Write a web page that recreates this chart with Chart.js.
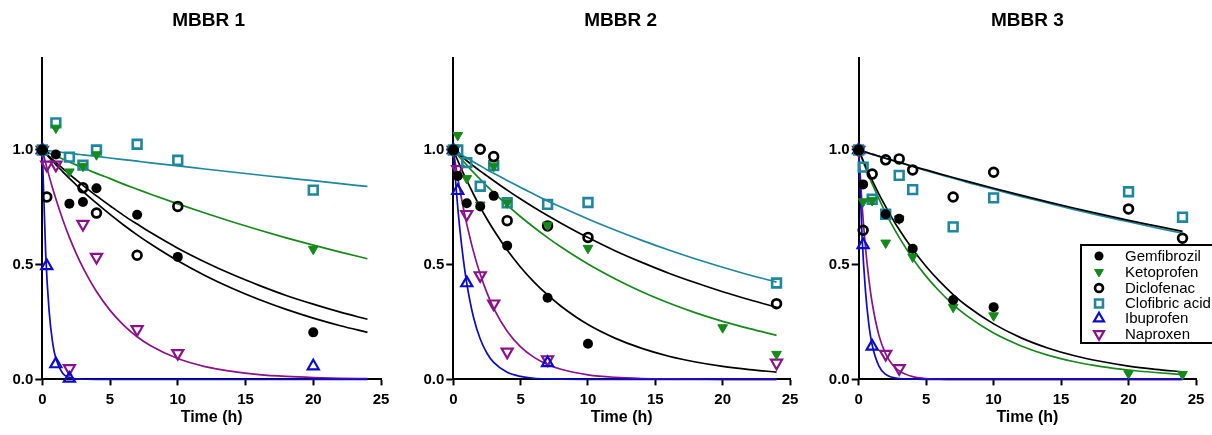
<!DOCTYPE html>
<html>
<head>
<meta charset="utf-8">
<script src="https://cdn.jsdelivr.net/npm/chart.js@4.4.1/dist/chart.umd.min.js"></script>
<style>
  html, body { margin: 0; padding: 0; background: #fff; width: 1212px; height: 435px; overflow: hidden; }
  canvas { position: absolute; top: 0; }
</style>
</head>
<body>
<canvas id="p1" width="400" height="435" style="left:0px"></canvas>
<canvas id="p2" width="400" height="435" style="left:410px"></canvas>
<canvas id="p3" width="397" height="435" style="left:815px"></canvas>
<script>
// Relative concentration C/C0 of six pharmaceuticals in three MBBR reactors.
const SERIES_NAMES = ['Gemfibrozil', 'Ketoprofen', 'Diclofenac', 'Clofibric acid', 'Ibuprofen', 'Naproxen'];
const PANEL_TITLES = ['MBBR 1', 'MBBR 2', 'MBBR 3'];
const X_TICKS = [0, 5, 10, 15, 20, 25];
const Y_TICKS = [0, 0.5, 1.0];

// Sampling times (h)
const TIMES_1 = [0, 0.33, 1, 2, 3, 4, 7, 10, 20];
const TIMES_23 = [0, 0.33, 1, 2, 3, 4, 7, 10, 20, 24];

// Measured C/C0, MBBR 1
const M1_GEM  = [1.0, null, 0.98, 0.766, 0.773, 0.833, 0.718, 0.534, 0.205];
const M1_KETO = [1.0, null, 1.096, 0.905, 0.93, 0.98, null, null, 0.568];
const M1_DIC  = [1.0, 0.795, null, null, 0.835, 0.725, 0.541, 0.754, null];
const M1_CLOF = [1.0, null, 1.118, 0.969, 0.934, 1.0, 1.025, 0.955, 0.825];
const M1_IBU  = [1.0, 0.495, 0.067, 0.004, null, null, null, null, 0.058];
const M1_NAP  = [1.0, 0.935, 0.935, 0.048, 0.677, 0.533, 0.218, 0.114, null];

// Measured C/C0, MBBR 2
const M2_GEM  = [1.0, 0.887, 0.768, 0.754, 0.80, 0.583, 0.356, 0.155, null, null];
const M2_KETO = [1.0, 1.064, 0.876, 0.761, 0.93, 0.77, 0.673, 0.572, 0.226, 0.11];
const M2_DIC  = [1.0, null, null, 1.003, 0.971, 0.692, 0.669, 0.619, null, 0.33];
const M2_CLOF = [1.0, 1.0, 0.945, 0.842, 0.932, 0.77, 0.763, 0.771, null, 0.42];
const M2_IBU  = [1.0, 0.822, 0.42, null, null, null, 0.072, null, null, null];
const M2_NAP  = [1.0, 0.916, 0.72, 0.453, 0.33, 0.12, 0.087, null, null, 0.072];

// Measured C/C0, MBBR 3
const M3_GEM  = [1.0, 0.85, null, 0.72, 0.70, 0.57, 0.346, 0.315, null, null];
const M3_KETO = [1.0, 0.775, 0.78, 0.595, 0.70, 0.534, 0.315, 0.278, 0.026, 0.022];
const M3_DIC  = [1.0, 0.65, 0.895, 0.957, 0.961, 0.913, 0.795, 0.903, 0.743, 0.615];
const M3_CLOF = [1.0, 0.925, 0.785, 0.72, 0.889, 0.827, 0.665, 0.791, 0.818, 0.707];
const M3_IBU  = [1.0, 0.586, 0.144, null, null, null, null, null, null, null];
const M3_NAP  = [1.0, null, null, 0.11, 0.048, null, null, null, null, null];

// First-order decay fits, tabulated at these times (h)
const T_FIT = [0, 0.25, 0.5, 0.75, 1, 1.5, 2, 2.5, 3, 4, 5, 6, 7, 8, 10, 12, 14, 16, 18, 20, 22, 24];

const F1_GEM  = [1, 0.984, 0.968, 0.952, 0.936, 0.906, 0.876, 0.848, 0.820, 0.768, 0.719, 0.673, 0.630, 0.590, 0.517, 0.453, 0.397, 0.348, 0.305, 0.267, 0.234, 0.205];
const F1_KETO = [1, 0.993, 0.987, 0.980, 0.974, 0.961, 0.948, 0.935, 0.923, 0.898, 0.875, 0.851, 0.829, 0.807, 0.765, 0.725, 0.687, 0.651, 0.617, 0.585, 0.555, 0.526];
const F1_DIC  = [1, 0.986, 0.972, 0.959, 0.946, 0.920, 0.894, 0.870, 0.846, 0.800, 0.757, 0.715, 0.677, 0.640, 0.572, 0.512, 0.458, 0.410, 0.366, 0.328, 0.293, 0.262];
const F1_CLOF = [1, 0.998, 0.996, 0.995, 0.993, 0.989, 0.986, 0.982, 0.979, 0.972, 0.965, 0.958, 0.951, 0.944, 0.931, 0.917, 0.904, 0.891, 0.878, 0.866, 0.853, 0.841];
const F1_IBU  = [1, 0.549, 0.301, 0.165, 0.091, 0.027, 0.008, 0.002, 0.001, 0, 0, 0, 0, 0, 0, 0, 0, 0, 0, 0, 0, 0];
const F1_NAP  = [1, 0.942, 0.887, 0.835, 0.787, 0.698, 0.619, 0.549, 0.487, 0.383, 0.301, 0.237, 0.186, 0.147, 0.091, 0.056, 0.035, 0.021, 0.013, 0.008, 0.005, 0.003];

const F2_GEM  = [1, 0.965, 0.931, 0.898, 0.867, 0.807, 0.751, 0.699, 0.651, 0.564, 0.489, 0.424, 0.368, 0.319, 0.239, 0.180, 0.135, 0.101, 0.076, 0.057, 0.043, 0.032];
const F2_KETO = [1, 0.983, 0.966, 0.950, 0.934, 0.902, 0.872, 0.842, 0.814, 0.760, 0.709, 0.662, 0.618, 0.577, 0.503, 0.439, 0.382, 0.333, 0.290, 0.253, 0.221, 0.192];
const F2_DIC  = [1, 0.988, 0.976, 0.965, 0.953, 0.930, 0.908, 0.887, 0.866, 0.825, 0.786, 0.749, 0.714, 0.681, 0.618, 0.561, 0.510, 0.463, 0.421, 0.382, 0.347, 0.315];
const F2_CLOF = [1, 0.991, 0.982, 0.974, 0.965, 0.948, 0.931, 0.914, 0.898, 0.867, 0.836, 0.807, 0.778, 0.751, 0.699, 0.651, 0.606, 0.564, 0.525, 0.489, 0.455, 0.424];
const F2_IBU  = [1, 0.805, 0.647, 0.521, 0.419, 0.271, 0.176, 0.114, 0.074, 0.031, 0.013, 0.005, 0.002, 0.001, 0, 0, 0, 0, 0, 0, 0, 0];
const F2_NAP  = [1, 0.907, 0.823, 0.746, 0.677, 0.557, 0.458, 0.377, 0.310, 0.210, 0.142, 0.096, 0.065, 0.044, 0.020, 0.009, 0.004, 0.002, 0.001, 0, 0, 0];

const F3_GEM  = [1, 0.965, 0.931, 0.899, 0.868, 0.808, 0.753, 0.701, 0.653, 0.567, 0.492, 0.427, 0.370, 0.321, 0.242, 0.182, 0.137, 0.103, 0.078, 0.058, 0.044, 0.033];
const F3_KETO = [1, 0.961, 0.923, 0.887, 0.852, 0.787, 0.726, 0.670, 0.619, 0.527, 0.449, 0.383, 0.326, 0.278, 0.202, 0.147, 0.106, 0.077, 0.056, 0.041, 0.030, 0.021];
const F3_DIC  = [1, 0.995, 0.991, 0.986, 0.982, 0.973, 0.964, 0.955, 0.947, 0.929, 0.913, 0.896, 0.880, 0.864, 0.833, 0.803, 0.774, 0.746, 0.719, 0.693, 0.669, 0.645];
const F3_CLOF = [1, 0.995, 0.991, 0.986, 0.981, 0.972, 0.963, 0.954, 0.945, 0.928, 0.910, 0.893, 0.877, 0.860, 0.829, 0.798, 0.769, 0.740, 0.713, 0.687, 0.661, 0.637];
const F3_IBU  = [1, 0.622, 0.387, 0.241, 0.150, 0.058, 0.022, 0.009, 0.003, 0.001, 0, 0, 0, 0, 0, 0, 0, 0, 0, 0, 0, 0];
const F3_NAP  = [1, 0.760, 0.577, 0.438, 0.333, 0.192, 0.111, 0.064, 0.037, 0.012, 0.004, 0.001, 0, 0, 0, 0, 0, 0, 0, 0, 0, 0];

// Marker and line styles, in series order
const STYLES = [
  { color: '#000000', pointStyle: 'circle',   rotation: 0,   radius: 5.0, borderWidth: 0,   filled: true  },
  { color: '#15891a', pointStyle: 'triangle', rotation: 180, radius: 5.6, borderWidth: 1,   filled: true  },
  { color: '#000000', pointStyle: 'circle',   rotation: 0,   radius: 4.4, borderWidth: 2.7, filled: false },
  { color: '#1d87a0', pointStyle: 'rect',     rotation: 0,   radius: 6.2, borderWidth: 2.6, filled: false },
  { color: '#0a0ad0', pointStyle: 'triangle', rotation: 0,   radius: 6.4, borderWidth: 2.2, filled: false },
  { color: '#8b108b', pointStyle: 'triangle', rotation: 180, radius: 6.4, borderWidth: 2.2, filled: false }
];

const FONT = '"Liberation Sans", Arial, Helvetica, sans-serif';

const PANELS = [
  { canvas: 'p1', title: PANEL_TITLES[0], times: TIMES_1,
    measured: [M1_GEM, M1_KETO, M1_DIC, M1_CLOF, M1_IBU, M1_NAP],
    fits: [F1_GEM, F1_KETO, F1_DIC, F1_CLOF, F1_IBU, F1_NAP],
    yWidth: 42.3, padRight: 19, titleDx: -3, legend: false },
  { canvas: 'p2', title: PANEL_TITLES[1], times: TIMES_23,
    measured: [M2_GEM, M2_KETO, M2_DIC, M2_CLOF, M2_IBU, M2_NAP],
    fits: [F2_GEM, F2_KETO, F2_DIC, F2_CLOF, F2_IBU, F2_NAP],
    yWidth: 43.3, padRight: 20, titleDx: -1, legend: false },
  { canvas: 'p3', title: PANEL_TITLES[2], times: TIMES_23,
    measured: [M3_GEM, M3_KETO, M3_DIC, M3_CLOF, M3_IBU, M3_NAP],
    fits: [F3_GEM, F3_KETO, F3_DIC, F3_CLOF, F3_IBU, F3_NAP],
    yWidth: 43.7, padRight: 16, titleDx: 0, legend: true }
];

function drawMarker(ctx, st, x, y) {
  ctx.save();
  ctx.fillStyle = st.filled ? st.color : 'rgba(0,0,0,0)';
  ctx.strokeStyle = st.color;
  ctx.lineWidth = st.borderWidth;
  if (Chart.helpers && Chart.helpers.drawPoint) {
    Chart.helpers.drawPoint(ctx, { pointStyle: st.pointStyle, rotation: st.rotation, radius: st.radius, borderWidth: st.borderWidth }, x, y);
  } else {
    ctx.beginPath();
    ctx.arc(x, y, st.radius, 0, Math.PI * 2);
    ctx.fill();
    if (st.borderWidth > 0) ctx.stroke();
  }
  ctx.restore();
}

// Panel heading above each plot area
const panelTitle = {
  id: 'panelTitle',
  afterDraw(chart, args, opts) {
    const { ctx, chartArea } = chart;
    ctx.save();
    ctx.font = 'bold 19px ' + FONT;
    ctx.fillStyle = '#000';
    ctx.textAlign = 'center';
    ctx.textBaseline = 'middle';
    ctx.fillText(opts.text, (chartArea.left + chartArea.right) / 2 + (opts.dx || 0), 21);
    ctx.restore();
  }
};

// Boxed series key drawn inside the plot
const boxLegend = {
  id: 'boxLegend',
  afterDatasetsDraw(chart, args, opts) {
    if (!opts.show) return;
    const ctx = chart.ctx;
    const left = 266, top = 245, height = 98;
    const rows = [256, 272, 288, 303.5, 318.5, 334];
    ctx.save();
    ctx.fillStyle = '#fff';
    ctx.fillRect(left, top, 200, height);
    ctx.strokeStyle = '#000';
    ctx.lineWidth = 2;
    ctx.strokeRect(left, top, 200, height);
    ctx.font = '15px ' + FONT;
    ctx.textAlign = 'left';
    ctx.textBaseline = 'middle';
    SERIES_NAMES.forEach((name, i) => {
      const st = Object.assign({}, STYLES[i], { radius: STYLES[i].radius * 0.9 });
      drawMarker(ctx, st, 284, rows[i]);
      ctx.fillStyle = '#000';
      ctx.fillText(name, 310, rows[i] + 0.5);
    });
    ctx.restore();
  }
};

function buildChart(p) {
  const datasets = [];
  p.fits.forEach((vals, i) => {
    datasets.push({
      label: SERIES_NAMES[i] + ' (fit)',
      data: T_FIT.map((t, j) => ({ x: t, y: vals[j] })),
      showLine: true,
      borderColor: STYLES[i].color,
      borderWidth: 1.7,
      pointRadius: 0,
      pointHoverRadius: 0,
      cubicInterpolationMode: 'monotone',
      fill: false,
      clip: false,
      order: 2
    });
  });
  p.measured.forEach((vals, i) => {
    const st = STYLES[i];
    const pts = [];
    p.times.forEach((t, j) => { if (vals[j] !== null) pts.push({ x: t, y: vals[j] }); });
    datasets.push({
      label: SERIES_NAMES[i],
      data: pts,
      showLine: false,
      pointStyle: st.pointStyle,
      pointRotation: st.rotation,
      pointRadius: st.radius,
      pointHoverRadius: st.radius,
      pointBorderWidth: st.borderWidth,
      pointBorderColor: st.color,
      pointBackgroundColor: st.filled ? st.color : 'rgba(0,0,0,0)',
      clip: false,
      order: 1
    });
  });

  const tickFont = { family: FONT, size: 15, weight: 'bold' };

  return new Chart(document.getElementById(p.canvas), {
    type: 'scatter',
    data: { datasets },
    plugins: [panelTitle, boxLegend],
    options: {
      responsive: false,
      animation: false,
      devicePixelRatio: 1,
      events: [],
      layout: { padding: { top: 58.2, left: 0, right: p.padRight, bottom: 0 } },
      plugins: {
        legend: { display: false },
        tooltip: { enabled: false },
        panelTitle: { text: p.title, dx: p.titleDx },
        boxLegend: { show: p.legend }
      },
      scales: {
        x: {
          type: 'linear', min: 0, max: 25,
          afterBuildTicks: s => { s.ticks = X_TICKS.map(v => ({ value: v })); },
          afterFit: s => { s.height = 55.6; },
          ticks: { color: '#000', font: tickFont, padding: 5, maxRotation: 0, callback: v => String(v) },
          grid: { display: true, drawOnChartArea: false, drawTicks: true, tickLength: 6, tickWidth: 2, tickColor: '#000' },
          border: { display: true, color: '#000', width: 2 },
          title: { display: true, text: 'Time (h)', color: '#000',
                   font: { family: FONT, size: 16, weight: 'bold' }, padding: { top: 0, bottom: 8 } }
        },
        y: {
          type: 'linear', min: 0, max: 1.4,
          afterBuildTicks: s => { s.ticks = Y_TICKS.map(v => ({ value: v })); },
          afterFit: s => { s.width = p.yWidth; },
          ticks: { color: '#000', font: tickFont, padding: 2, callback: v => Number(v).toFixed(1) },
          grid: { display: true, drawOnChartArea: false, drawTicks: true, tickLength: 7, tickWidth: 2, tickColor: '#000' },
          border: { display: true, color: '#000', width: 2 }
        }
      }
    }
  });
}

PANELS.forEach(buildChart);
</script>
</body>
</html>
